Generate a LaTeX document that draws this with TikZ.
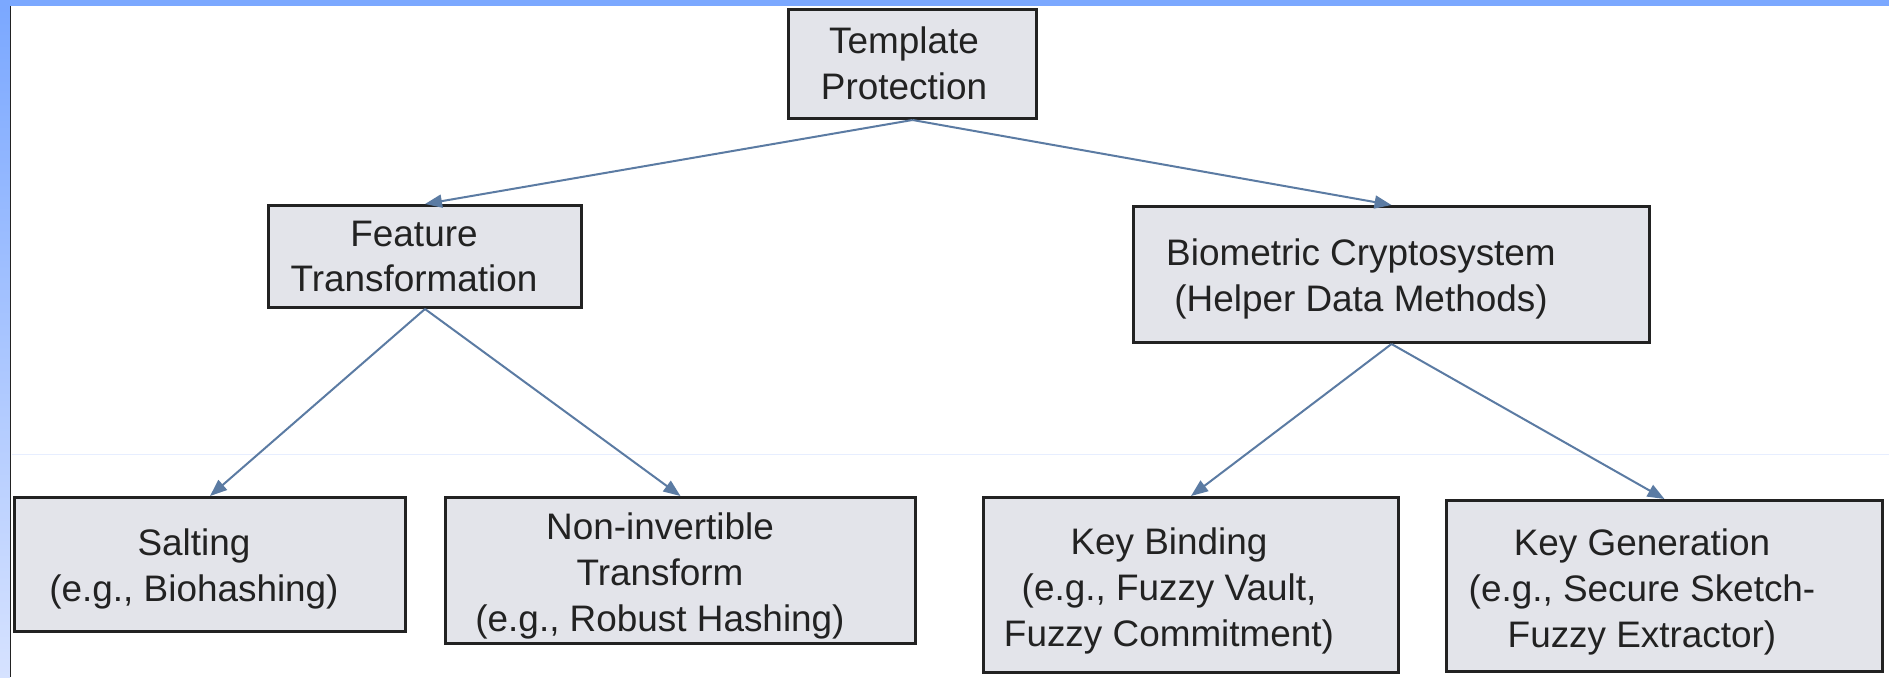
\documentclass[tikz,border=0pt]{standalone}
\usepackage{fontspec}
\setmainfont{Liberation Sans}
\usetikzlibrary{arrows.meta}

\definecolor{boxgray}{RGB}{227,228,234}
\definecolor{linkblue}{RGB}{91,123,163}
\definecolor{slideblue}{RGB}{123,168,255}
\definecolor{slidepale}{RGB}{214,226,255}
\definecolor{inkgray}{RGB}{34,34,34}

\begin{document}
\begin{tikzpicture}[x=0.02cm,y=-0.02cm,
  box/.style={draw=inkgray,line width=0.6mm,fill=boxgray,inner sep=0pt},
  txt/.style={align=center,inner sep=0pt,text=inkgray,font=\fontsize{21}{26.1}\selectfont},
  link/.style={draw=linkblue,line width=0.4mm,-{Triangle[length=3.4mm,width=2.6mm]}}]

\useasboundingbox (0,0) rectangle (1889,677);
\fill[white] (0,0) rectangle (1889,677);

% slide frame
\fill[slideblue] (0,0) rectangle (1889,6);
\shade[top color=slideblue,bottom color=slidepale] (0,6) rectangle (10,677);
\draw[inkgray,line width=0.3mm] (10.7,6) -- (10.7,677);
\draw[slidepale!60,line width=0.2mm] (12,454) -- (1889,454);

% boxes
\node[box,minimum width=4.96cm,minimum height=2.18cm] (tp) at (912.5,64) {};
\node[box,minimum width=6.26cm,minimum height=2.04cm] (ft) at (425,256.5) {};
\node[box,minimum width=10.32cm,minimum height=2.72cm] (bc) at (1391.5,274.5) {};
\node[box,minimum width=7.82cm,minimum height=2.68cm] (salt) at (210,564.5) {};
\node[box,minimum width=9.40cm,minimum height=2.92cm] (ninv) at (680.5,570.5) {};
\node[box,minimum width=8.30cm,minimum height=3.50cm] (kb) at (1191,585) {};
\node[box,minimum width=8.72cm,minimum height=3.42cm] (kg) at (1664.5,586) {};

% labels
\node[txt] (tpT) at (904,63.5) {Template\\Protection};
\node[txt] (ftT) at (414,256.5) {Feature\\Transformation};
\node[txt] (bcT) at (1361,279) {Biometric Cryptosystem\\(Helper Data Methods)};
\node[txt] (saltT) at (194,569) {Salting\\(e.g., Biohashing)};
\node[txt] (ninvT) at (660,576) {Non-invertible\\Transform\\(e.g., Robust Hashing)};
\node[txt] (kbT) at (1169,591) {Key Binding\\(e.g., Fuzzy Vault,\\Fuzzy Commitment)};
\node[txt] (kgT) at (1642,592) {Key Generation\\(e.g., Secure Sketch-\\Fuzzy Extractor)};

% arrows
\draw[link] (tp.south) -- (ft.north);
\draw[link] (tp.south) -- (bc.north);
\draw[link] (ft.south) -- (salt.north);
\draw[link] (ft.south) -- (ninv.north);
\draw[link] (bc.south) -- (kb.north);
\draw[link] (bc.south) -- (kg.north);
\end{tikzpicture}
\end{document}
